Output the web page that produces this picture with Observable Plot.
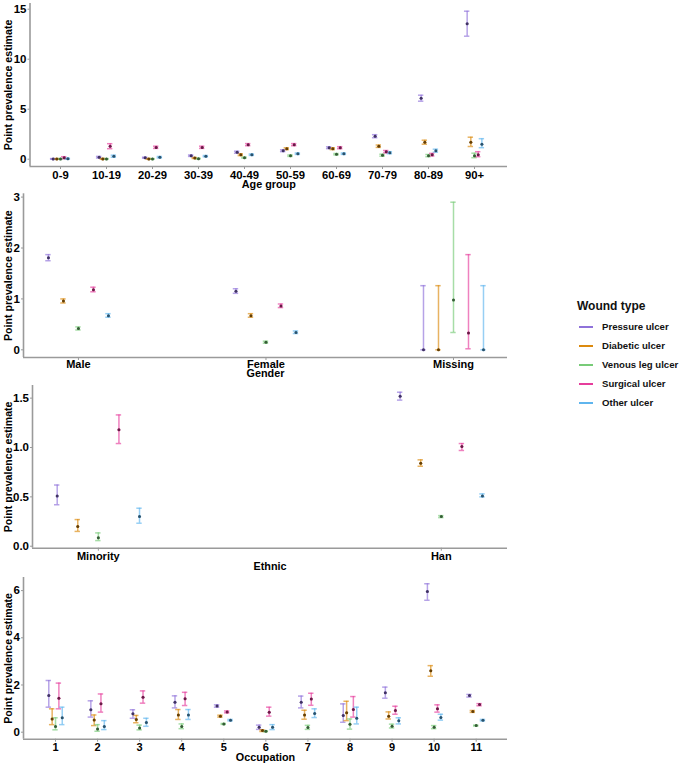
<!DOCTYPE html>
<html><head><meta charset="utf-8">
<script src="https://cdn.jsdelivr.net/npm/d3@7"></script>
<script src="https://cdn.jsdelivr.net/npm/@observablehq/plot@0.6"></script>
<style>
body{margin:0;background:#fff;font-family:"Liberation Sans",Arial,sans-serif;}
#root{position:relative;width:681px;height:765px;overflow:hidden;}
.panel{position:absolute;left:0;}
.lg-title{position:absolute;left:577px;top:298px;font-size:12px;font-weight:bold;color:#111;line-height:16px;white-space:nowrap;}
.lg-item{position:absolute;left:579px;height:14px;font-size:9.6px;font-weight:bold;color:#111;line-height:14px;white-space:nowrap;}
.lg-item span.key{position:absolute;left:0;top:6px;width:14px;height:2px;}
.lg-item span.txt{position:absolute;left:23px;top:0;}
</style></head><body><div id="root"></div>
<script>
// ---- series ----
const seriesNames = ["Pressure ulcer", "Diabetic ulcer", "Venous leg ulcer", "Surgical ulcer", "Other ulcer"];
const seriesColors = ["#8F72DA", "#DC8A0E", "#78CB78", "#E63D9C", "#5FB5EE"];

// ---- Age group panel (columns: pressure, diabetic, venous, surgical, other) ----
const ageGroups = ["0-9", "10-19", "20-29", "30-39", "40-49", "50-59", "60-69", "70-79", "80-89", "90+"];
const ageEst = [
  [0.02, 0.02, 0.02, 0.15, 0.05],
  [0.2, 0.03, 0.02, 1.3, 0.3],
  [0.15, 0.03, 0.02, 1.18, 0.2],
  [0.35, 0.12, 0.05, 1.18, 0.3],
  [0.7, 0.45, 0.15, 1.45, 0.45],
  [0.85, 1.05, 0.35, 1.45, 0.55],
  [1.15, 1.05, 0.5, 1.15, 0.55],
  [2.3, 1.3, 0.4, 0.75, 0.65],
  [6.1, 1.7, 0.35, 0.45, 0.85],
  [13.55, 1.7, 0.35, 0.45, 1.5]
];
const ageLo = [
  [0, 0, 0, 0.05, 0],
  [0.12, 0, 0, 1.05, 0.2],
  [0.1, 0, 0, 1.08, 0.13],
  [0.28, 0.07, 0.02, 1.08, 0.24],
  [0.6, 0.36, 0.1, 1.35, 0.38],
  [0.76, 0.96, 0.28, 1.35, 0.48],
  [1.06, 0.96, 0.43, 1.05, 0.48],
  [2.15, 1.18, 0.3, 0.63, 0.55],
  [5.8, 1.5, 0.25, 0.32, 0.7],
  [12.3, 1.27, 0.15, 0.25, 1.15]
];
const ageHi = [
  [0.06, 0.06, 0.06, 0.25, 0.1],
  [0.28, 0.08, 0.06, 1.55, 0.4],
  [0.2, 0.07, 0.06, 1.3, 0.27],
  [0.42, 0.17, 0.09, 1.3, 0.37],
  [0.8, 0.54, 0.21, 1.56, 0.52],
  [0.94, 1.14, 0.42, 1.56, 0.62],
  [1.24, 1.14, 0.57, 1.25, 0.62],
  [2.45, 1.42, 0.5, 0.87, 0.75],
  [6.4, 1.9, 0.47, 0.58, 1.0],
  [14.8, 2.2, 0.6, 0.75, 2.05]
];
const ageTicks = [0, 5, 10, 15];

// ---- Gender panel ----
const genders = ["Male", "Female", "Missing"];
const genderEst = [
  [1.81, 0.96, 0.42, 1.18, 0.67],
  [1.15, 0.67, 0.15, 0.86, 0.34],
  [0, 0, 0.98, 0.33, 0]
];
const genderLo = [
  [1.75, 0.92, 0.39, 1.14, 0.64],
  [1.11, 0.64, 0.13, 0.83, 0.32],
  [0, 0, 0.34, 0.02, 0]
];
const genderHi = [
  [1.87, 1.0, 0.45, 1.23, 0.71],
  [1.2, 0.71, 0.17, 0.9, 0.37],
  [1.26, 1.26, 2.9, 1.87, 1.26]
];
const genderTicks = [0, 1, 2, 3];

// ---- Ethnic panel ----
const ethnics = ["Minority", "Han"];
const ethnicEst = [
  [0.51, 0.2, 0.085, 1.18, 0.3],
  [1.52, 0.84, 0.3, 1.01, 0.51]
];
const ethnicLo = [
  [0.42, 0.15, 0.057, 1.04, 0.233],
  [1.48, 0.81, 0.29, 0.97, 0.5]
];
const ethnicHi = [
  [0.62, 0.27, 0.135, 1.33, 0.385],
  [1.56, 0.875, 0.31, 1.04, 0.53]
];
const ethnicTicks = [0, 0.5, 1, 1.5];

// ---- Occupation panel ----
const occupations = ["1", "2", "3", "4", "5", "6", "7", "8", "9", "10", "11"];
const occEst = [
  [1.55, 0.56, 0.24, 1.44, 0.61],
  [0.95, 0.52, 0.14, 1.2, 0.24],
  [0.78, 0.54, 0.18, 1.48, 0.41],
  [1.27, 0.73, 0.24, 1.42, 0.73],
  [1.11, 0.68, 0.35, 0.86, 0.51],
  [0.21, 0.07, 0.04, 0.85, 0.21],
  [1.27, 0.73, 0.2, 1.41, 0.79],
  [0.71, 0.82, 0.34, 0.96, 0.59],
  [1.67, 0.68, 0.25, 0.92, 0.48],
  [5.96, 2.6, 0.21, 0.99, 0.62],
  [1.55, 0.88, 0.28, 1.17, 0.51]
];
const occLo = [
  [1.06, 0.32, 0.1, 0.99, 0.32],
  [0.64, 0.28, 0.04, 0.85, 0.11],
  [0.59, 0.4, 0.1, 1.23, 0.25],
  [1.03, 0.54, 0.15, 1.13, 0.54],
  [1.06, 0.64, 0.33, 0.82, 0.48],
  [0.12, 0.03, 0.02, 0.68, 0.11],
  [1.03, 0.55, 0.12, 1.14, 0.62],
  [0.42, 0.49, 0.13, 0.64, 0.35],
  [1.44, 0.56, 0.18, 0.76, 0.35],
  [5.59, 2.37, 0.15, 0.85, 0.51],
  [1.49, 0.84, 0.26, 1.12, 0.48]
];
const occHi = [
  [2.19, 0.99, 0.61, 2.08, 1.06],
  [1.33, 0.73, 0.32, 1.62, 0.49],
  [0.95, 0.71, 0.3, 1.75, 0.59],
  [1.54, 0.96, 0.35, 1.69, 0.96],
  [1.16, 0.72, 0.37, 0.9, 0.54],
  [0.3, 0.1, 0.06, 1.06, 0.32],
  [1.53, 0.93, 0.29, 1.65, 0.99],
  [1.2, 1.31, 0.56, 1.51, 1.06],
  [1.91, 0.86, 0.34, 1.1, 0.61],
  [6.29, 2.82, 0.28, 1.16, 0.76],
  [1.6, 0.92, 0.3, 1.21, 0.54]
];
const occTicks = [0, 2, 4, 6];

const yTitle = "Point prevalence estimate";
const root = document.getElementById("root");

function panel(o) {
  const W = 515, mr = 8;
  const k = (W - o.ml - mr) / (o.xDomain[1] - o.xDomain[0]);
  const cap = 2.7 / k;
  const rows = [];
  o.cats.forEach((c, i) => seriesNames.forEach((s, j) => rows.push({
    x: i + (j - 2) * o.dodge, est: o.est[i][j], lo: o.lo[i][j], hi: o.hi[i][j], s
  })));
  const axisColor = "#9a9a9a";
  const svg = Plot.plot({
    width: W, height: o.height,
    marginTop: o.mt, marginBottom: o.mb, marginLeft: o.ml, marginRight: mr,
    style: {fontFamily: "'Liberation Sans', Arial, sans-serif", fontWeight: "bold", fontSize: "11px", color: "#000", background: "transparent", overflow: "visible"},
    x: {domain: o.xDomain},
    y: {domain: o.yDomain},
    color: {domain: seriesNames, range: seriesColors},
    marks: [
      Plot.ruleX([o.xDomain[0]], {stroke: axisColor, strokeWidth: 1.6}),
      Plot.ruleY([o.yDomain[0]], {stroke: axisColor, strokeWidth: 1.6}),
      Plot.axisX({ticks: o.cats.map((_, i) => i), tickFormat: i => o.cats[i], tickSize: 3, tickPadding: o.xPad, stroke: axisColor, fill: "#000", label: null, fontSize: o.xFont}),
      Plot.axisY({ticks: o.yTicks, tickFormat: o.yFormat, tickSize: 2, tickPadding: 1.5, stroke: axisColor, fill: "#000", label: null, fontSize: 11.5}),
      Plot.ruleX(rows, {x: "x", y1: "lo", y2: "hi", stroke: "s", strokeOpacity: 0.65, strokeWidth: 1.5}),
      Plot.ruleY(rows, {y: "lo", x1: d => d.x - cap, x2: d => d.x + cap, stroke: "s", strokeOpacity: 0.65, strokeWidth: 1.5}),
      Plot.ruleY(rows, {y: "hi", x1: d => d.x - cap, x2: d => d.x + cap, stroke: "s", strokeOpacity: 0.65, strokeWidth: 1.5}),
      Plot.dot(rows, {x: "x", y: "est", r: 1.5, fill: "s"}),
      Plot.dot(rows, {x: "x", y: "est", r: 1.5, fill: "#000", fillOpacity: 0.55}),
      Plot.text([o.title], {frameAnchor: "bottom", dy: o.titleDy, lineAnchor: "middle", textAnchor: "middle", fontSize: 10.8, fill: "#000"}),
      Plot.text([yTitle], {frameAnchor: "left", rotate: -90, dx: 8.5 - o.ml, lineAnchor: "middle", textAnchor: "middle", fontSize: 10.6, fill: "#000"})
    ]
  });
  svg.classList.add("panel");
  svg.style.top = o.top + "px";
  root.appendChild(svg);
}

panel({cats: ageGroups, est: ageEst, lo: ageLo, hi: ageHi, top: 0, height: 190, mt: 3, mb: 24, ml: 29.5,
  xDomain: [-0.663, 9.717], dodge: 0.08, yDomain: [-0.73, 15.57], yTicks: ageTicks, yFormat: d3.format("d"),
  title: "Age group", titleDy: 18, xFont: 11.3, xPad: 1.5});
panel({cats: genders, est: genderEst, lo: genderLo, hi: genderHi, top: 190, height: 188, mt: 3.3, mb: 21, ml: 23,
  xDomain: [-0.293, 2.288], dodge: 0.08, yDomain: [-0.151, 3.065], yTicks: genderTicks, yFormat: d3.format("d"),
  title: "Gender", titleDy: 16.5, xFont: 11, xPad: 0});
panel({cats: ethnics, est: ethnicEst, lo: ethnicLo, hi: ethnicHi, top: 378, height: 194, mt: 7, mb: 24.3, ml: 32,
  xDomain: [-0.192, 1.193], dodge: 0.06, yDomain: [-0.02, 1.628], yTicks: ethnicTicks, yFormat: d3.format(".1f"),
  title: "Ethnic", titleDy: 18, xFont: 11, xPad: 0.5});
panel({cats: occupations, est: occEst, lo: occLo, hi: occHi, top: 572, height: 193, mt: 5, mb: 26.3, ml: 23,
  xDomain: [-0.761, 10.744], dodge: 0.08, yDomain: [-0.297, 6.555], yTicks: occTicks, yFormat: d3.format("d"),
  title: "Occupation", titleDy: 18.3, xFont: 11, xPad: 1});

// ---- legend ----
const lt = document.createElement("div");
lt.className = "lg-title";
lt.textContent = "Wound type";
root.appendChild(lt);
seriesNames.forEach((s, i) => {
  const it = document.createElement("div");
  it.className = "lg-item";
  it.style.top = (320 + i * 19) + "px";
  const key = document.createElement("span");
  key.className = "key";
  key.style.background = seriesColors[i];
  const txt = document.createElement("span");
  txt.className = "txt";
  txt.textContent = s;
  it.appendChild(key);
  it.appendChild(txt);
  root.appendChild(it);
});
</script>
</body></html>
